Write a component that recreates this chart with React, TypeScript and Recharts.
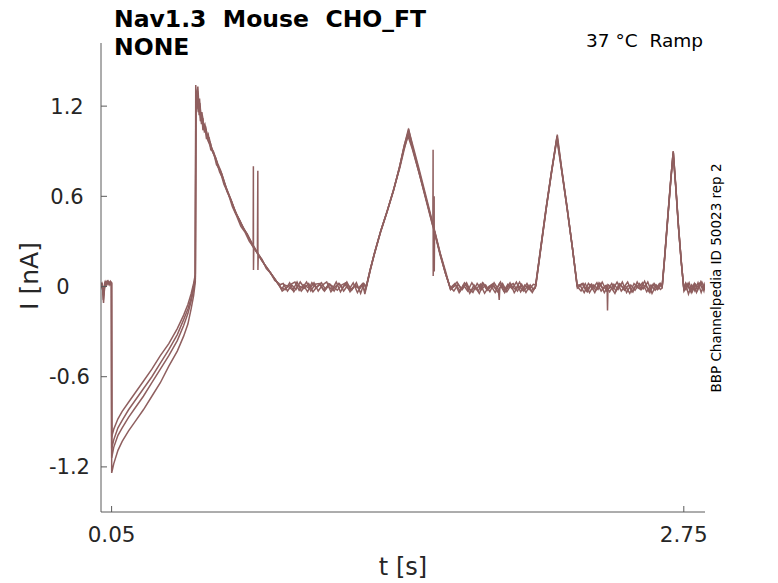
import React from 'react';
import { LineChart, Line, XAxis, YAxis } from 'recharts';

type Pt = [number, number];

// time [s], current [nA] — four sweeps of the same ramp protocol
const sweep1: Pt[] = [
  [0, 0.01], [0.004, 0.02], [0.008, -0.02], [0.011, -0.09], [0.014, -0.05], [0.017, 0.02], [0.022, 0.03], [0.028, 0.015], [0.034, 0.035], [0.04, 0.02], [0.046, 0.03], [0.0495, 0.02],
  [0.0505, -1.0], [0.06, -0.95], [0.08, -0.88], [0.1, -0.83], [0.13, -0.77], [0.16, -0.71], [0.2, -0.63], [0.24, -0.55], [0.28, -0.46], [0.32, -0.38], [0.36, -0.28], [0.39, -0.19], [0.41, -0.12], [0.425, -0.05], [0.437, 0.02], [0.445, 0.08],
  [0.447, 1.34], [0.451, 1.22], [0.455, 1.3], [0.46, 1.17], [0.465, 1.25], [0.47, 1.12], [0.476, 1.16], [0.483, 1.06], [0.49, 1.08], [0.5, 1.0], [0.51, 0.99], [0.52, 0.93], [0.535, 0.88], [0.55, 0.82], [0.565, 0.77], [0.58, 0.7], [0.6, 0.62], [0.62, 0.55], [0.64, 0.48], [0.66, 0.42], [0.68, 0.37], [0.7, 0.32], [0.72, 0.27], [0.74, 0.22], [0.76, 0.17], [0.78, 0.13], [0.8, 0.09], [0.82, 0.05], [0.84, 0.01],
  [0.86, 0.02], [0.88, -0.03], [0.9, 0.01], [0.92, -0.02], [0.94, 0.03], [0.96, -0.01], [0.98, 0.02], [1.0, -0.035], [1.02, 0.0], [1.04, 0.025], [1.06, -0.02], [1.08, 0.015], [1.1, -0.03], [1.12, 0.02], [1.14, -0.01], [1.16, 0.03], [1.18, -0.025], [1.2, 0.01], [1.22, -0.015], [1.24, 0.02],
  [1.252, 0.0], [1.27, 0.11], [1.29, 0.22], [1.32, 0.37], [1.35, 0.5], [1.38, 0.64], [1.41, 0.8], [1.43, 0.93], [1.451, 1.05], [1.47, 0.93], [1.5, 0.77], [1.54, 0.55], [1.57, 0.38], [1.6, 0.22], [1.625, 0.09], [1.648, -0.01],
  [1.67, 0.02], [1.69, -0.04], [1.71, 0.01], [1.73, -0.03], [1.75, 0.025], [1.77, -0.02], [1.79, 0.015], [1.81, -0.045], [1.83, 0.0], [1.85, 0.02], [1.87, -0.035], [1.89, 0.01], [1.91, -0.02], [1.93, 0.025], [1.95, -0.04], [1.97, 0.005], [1.99, -0.025], [2.01, 0.02], [2.03, -0.03],
  [2.05, 0.0], [2.075, 0.26], [2.1, 0.52], [2.125, 0.76], [2.152, 1.0], [2.175, 0.77], [2.2, 0.52], [2.225, 0.25], [2.247, 0.0],
  [2.265, -0.03], [2.285, 0.02], [2.305, -0.04], [2.325, 0.01], [2.345, -0.02], [2.365, 0.03], [2.385, -0.03], [2.405, 0.0], [2.425, -0.045], [2.445, 0.02], [2.465, -0.01], [2.485, 0.03], [2.505, -0.035], [2.525, 0.01], [2.545, -0.02], [2.565, 0.035], [2.585, -0.03], [2.605, 0.015], [2.625, -0.02], [2.64, 0.02],
  [2.648, 0.0], [2.66, 0.2], [2.675, 0.47], [2.688, 0.7], [2.7, 0.9], [2.713, 0.65], [2.725, 0.4], [2.738, 0.17], [2.75, -0.02],
  [2.765, 0.02], [2.78, -0.03], [2.795, 0.01], [2.81, -0.04], [2.825, 0.02], [2.84, -0.02], [2.85, 0.01],
];

const sweep2: Pt[] = [
  [0, 0.0], [0.005, 0.025], [0.009, -0.01], [0.012, -0.06], [0.015, -0.02], [0.019, 0.03], [0.025, 0.02], [0.031, 0.035], [0.037, 0.015], [0.043, 0.03], [0.0495, 0.025],
  [0.0505, -1.08], [0.06, -1.02], [0.08, -0.94], [0.1, -0.89], [0.13, -0.82], [0.16, -0.76], [0.2, -0.68], [0.24, -0.6], [0.28, -0.51], [0.32, -0.42], [0.36, -0.32], [0.39, -0.22], [0.41, -0.15], [0.425, -0.08], [0.437, 0.0], [0.445, 0.06],
  [0.4475, 1.3], [0.452, 1.26], [0.457, 1.33], [0.462, 1.2], [0.467, 1.21], [0.472, 1.1], [0.478, 1.14], [0.486, 1.05], [0.494, 1.06], [0.505, 0.97], [0.515, 0.96], [0.528, 0.89], [0.54, 0.86], [0.555, 0.79], [0.57, 0.75], [0.59, 0.66], [0.61, 0.59], [0.63, 0.51], [0.65, 0.45], [0.67, 0.39], [0.69, 0.35], [0.71, 0.29], [0.73, 0.24], [0.75, 0.2], [0.77, 0.15], [0.79, 0.11], [0.81, 0.07], [0.83, 0.03], [0.85, -0.01],
  [0.87, -0.02], [0.89, 0.025], [0.91, -0.035], [0.93, 0.01], [0.95, -0.01], [0.97, 0.03], [0.99, -0.03], [1.01, 0.015], [1.03, 0.02], [1.05, -0.025], [1.07, 0.005], [1.09, -0.02], [1.11, 0.03], [1.13, -0.035], [1.15, 0.015], [1.17, -0.02], [1.19, 0.025], [1.21, -0.04], [1.23, 0.01], [1.245, -0.03],
  [1.254, 0.01], [1.272, 0.12], [1.292, 0.23], [1.322, 0.38], [1.352, 0.51], [1.382, 0.65], [1.41, 0.79], [1.432, 0.92], [1.45, 1.02], [1.472, 0.91], [1.502, 0.75], [1.54, 0.54], [1.562, 0.42], [1.566, 0.4], [1.567, 0.91], [1.5675, 0.07], [1.569, 0.39], [1.6, 0.21], [1.627, 0.08], [1.65, -0.02],
  [1.68, 0.03], [1.7, -0.02], [1.72, 0.015], [1.74, -0.045], [1.76, 0.01], [1.78, -0.03], [1.8, 0.025], [1.82, -0.02], [1.84, 0.005], [1.86, -0.04], [1.88, 0.02], [1.9, -0.03], [1.92, 0.015], [1.94, -0.015], [1.96, 0.03], [1.98, -0.035], [2.0, 0.01], [2.02, -0.02], [2.04, 0.015],
  [2.052, 0.01], [2.077, 0.27], [2.102, 0.53], [2.127, 0.77], [2.151, 0.98], [2.176, 0.75], [2.201, 0.5], [2.226, 0.24], [2.248, -0.01],
  [2.275, 0.02], [2.295, -0.035], [2.315, 0.015], [2.335, -0.025], [2.355, 0.02], [2.375, -0.04], [2.395, 0.01], [2.415, -0.02], [2.435, 0.03], [2.455, -0.03], [2.475, 0.005], [2.495, -0.045], [2.515, 0.02], [2.535, -0.01], [2.555, 0.025], [2.575, -0.035], [2.595, 0.01], [2.615, -0.025], [2.635, 0.02],
  [2.649, 0.01], [2.661, 0.21], [2.676, 0.48], [2.689, 0.71], [2.701, 0.89], [2.714, 0.63], [2.726, 0.38], [2.739, 0.15], [2.751, -0.03],
  [2.77, 0.015], [2.785, -0.04], [2.8, 0.02], [2.815, -0.025], [2.83, 0.03], [2.845, -0.03], [2.85, 0.0],
];

const sweep3: Pt[] = [
  [0, 0.02], [0.005, 0.0], [0.01, -0.04], [0.013, -0.03], [0.018, 0.01], [0.024, 0.035], [0.03, 0.02], [0.036, 0.03], [0.042, 0.01], [0.0495, 0.03],
  [0.0505, -1.14], [0.06, -1.07], [0.08, -0.99], [0.1, -0.94], [0.13, -0.87], [0.16, -0.81], [0.2, -0.73], [0.24, -0.64], [0.28, -0.55], [0.32, -0.46], [0.36, -0.36], [0.39, -0.26], [0.41, -0.18], [0.425, -0.1], [0.437, -0.02], [0.445, 0.05],
  [0.448, 1.28], [0.453, 1.18], [0.458, 1.27], [0.463, 1.14], [0.468, 1.2], [0.474, 1.08], [0.48, 1.12], [0.488, 1.03], [0.496, 1.04], [0.508, 0.96], [0.52, 0.92], [0.532, 0.88], [0.545, 0.83], [0.56, 0.76], [0.575, 0.72], [0.595, 0.63], [0.615, 0.57], [0.635, 0.49], [0.655, 0.44], [0.675, 0.38], [0.695, 0.33], [0.715, 0.27], [0.718, 0.26], [0.719, 0.8], [0.7195, 0.11], [0.721, 0.26], [0.735, 0.23], [0.755, 0.18], [0.775, 0.14], [0.795, 0.1], [0.815, 0.06], [0.835, 0.02], [0.852, -0.02],
  [0.865, 0.01], [0.885, 0.0], [0.905, -0.025], [0.925, 0.03], [0.945, -0.03], [0.965, 0.005], [0.985, -0.015], [1.005, 0.025], [1.025, -0.03], [1.045, 0.01], [1.065, 0.03], [1.085, -0.035], [1.105, 0.0], [1.125, 0.02], [1.145, -0.03], [1.165, 0.01], [1.185, -0.02], [1.205, 0.025], [1.225, -0.045], [1.24, 0.015],
  [1.25, -0.01], [1.268, 0.1], [1.288, 0.21], [1.318, 0.36], [1.348, 0.49], [1.378, 0.63], [1.408, 0.79], [1.428, 0.91], [1.449, 1.0], [1.468, 0.92], [1.498, 0.77], [1.538, 0.56], [1.568, 0.4], [1.571, 0.38], [1.572, 0.6], [1.5725, 0.1], [1.574, 0.37], [1.598, 0.23], [1.623, 0.1], [1.646, 0.0],
  [1.665, -0.03], [1.685, 0.015], [1.705, -0.02], [1.725, 0.025], [1.745, -0.035], [1.765, 0.0], [1.785, -0.045], [1.805, 0.02], [1.825, -0.025], [1.845, 0.01], [1.865, -0.02], [1.885, 0.03], [1.905, -0.04], [1.925, 0.005], [1.945, 0.02], [1.965, -0.03], [1.985, 0.015], [2.005, -0.04], [2.025, 0.01], [2.04, -0.02],
  [2.049, -0.01], [2.074, 0.25], [2.099, 0.51], [2.124, 0.75], [2.153, 1.01], [2.174, 0.78], [2.199, 0.53], [2.224, 0.26], [2.246, 0.01],
  [2.26, 0.01], [2.28, -0.04], [2.3, 0.02], [2.32, -0.015], [2.34, 0.025], [2.36, -0.03], [2.38, 0.005], [2.4, -0.035], [2.42, 0.015], [2.44, -0.02], [2.46, 0.03], [2.48, -0.04], [2.5, 0.01], [2.52, -0.025], [2.54, 0.02], [2.56, -0.015], [2.58, 0.03], [2.6, -0.045], [2.62, 0.01], [2.64, -0.02],
  [2.647, -0.01], [2.659, 0.19], [2.674, 0.46], [2.687, 0.69], [2.699, 0.88], [2.712, 0.66], [2.724, 0.41], [2.737, 0.18], [2.749, 0.0],
  [2.76, -0.02], [2.775, 0.025], [2.79, -0.035], [2.805, 0.015], [2.82, -0.01], [2.835, 0.03], [2.85, -0.02],
];

const sweep4: Pt[] = [
  [0, -0.01], [0.006, 0.015], [0.01, -0.07], [0.012, -0.11], [0.015, -0.04], [0.02, 0.02], [0.026, 0.01], [0.032, 0.03], [0.038, 0.02], [0.044, 0.035], [0.0495, 0.02],
  [0.0505, -1.24], [0.06, -1.18], [0.08, -1.09], [0.1, -1.03], [0.13, -0.96], [0.16, -0.9], [0.2, -0.82], [0.24, -0.73], [0.28, -0.64], [0.32, -0.53], [0.36, -0.43], [0.39, -0.33], [0.41, -0.25], [0.425, -0.15], [0.437, -0.06], [0.445, 0.03],
  [0.4485, 1.25], [0.454, 1.31], [0.459, 1.16], [0.464, 1.22], [0.469, 1.1], [0.475, 1.15], [0.481, 1.04], [0.489, 1.07], [0.498, 0.98], [0.506, 1.01], [0.518, 0.91], [0.53, 0.9], [0.545, 0.81], [0.56, 0.78], [0.58, 0.68], [0.6, 0.62], [0.62, 0.53], [0.64, 0.47], [0.66, 0.4], [0.68, 0.36], [0.7, 0.3], [0.72, 0.26], [0.738, 0.22], [0.74, 0.77], [0.7405, 0.11], [0.742, 0.21], [0.76, 0.18], [0.78, 0.12], [0.8, 0.09], [0.82, 0.04], [0.84, 0.02], [0.855, -0.03],
  [0.875, -0.01], [0.895, 0.015], [0.915, 0.03], [0.935, -0.025], [0.955, 0.01], [0.975, -0.035], [0.995, 0.025], [1.015, -0.01], [1.035, 0.015], [1.055, -0.03], [1.075, 0.02], [1.095, 0.0], [1.115, -0.025], [1.135, 0.01], [1.155, 0.025], [1.175, -0.035], [1.195, 0.005], [1.215, -0.01], [1.235, 0.02], [1.245, -0.05],
  [1.253, 0.0], [1.271, 0.11], [1.291, 0.22], [1.321, 0.37], [1.351, 0.5], [1.381, 0.64], [1.411, 0.81], [1.431, 0.94], [1.452, 1.04], [1.471, 0.94], [1.501, 0.78], [1.541, 0.56], [1.571, 0.39], [1.601, 0.22], [1.626, 0.1], [1.649, -0.02],
  [1.675, 0.01], [1.695, -0.03], [1.715, 0.025], [1.735, -0.01], [1.755, -0.04], [1.775, 0.02], [1.795, -0.02], [1.815, 0.01], [1.835, -0.035], [1.855, 0.025], [1.875, -0.02], [1.879, -0.09], [1.882, -0.01], [1.895, 0.02], [1.915, -0.035], [1.935, 0.01], [1.955, -0.02], [1.975, 0.03], [1.995, -0.03], [2.015, 0.005], [2.035, -0.04],
  [2.051, 0.0], [2.076, 0.26], [2.101, 0.52], [2.126, 0.76], [2.152, 0.99], [2.175, 0.76], [2.2, 0.51], [2.225, 0.25], [2.248, 0.0],
  [2.27, 0.02], [2.29, -0.03], [2.31, 0.01], [2.33, -0.04], [2.35, 0.025], [2.37, -0.015], [2.388, 0.01], [2.39, -0.16], [2.392, -0.02], [2.41, 0.02], [2.43, -0.03], [2.45, 0.015], [2.47, -0.025], [2.49, 0.01], [2.51, -0.035], [2.53, 0.03], [2.55, -0.02], [2.57, 0.01], [2.59, -0.04], [2.61, 0.02], [2.63, -0.015], [2.643, 0.01],
  [2.648, 0.0], [2.66, 0.2], [2.675, 0.47], [2.688, 0.7], [2.7, 0.9], [2.713, 0.64], [2.725, 0.39], [2.738, 0.16], [2.75, -0.01],
  [2.758, 0.02], [2.772, -0.05], [2.787, 0.01], [2.802, -0.03], [2.817, 0.025], [2.832, -0.04], [2.846, 0.015], [2.85, -0.01],
];

const xTicks = [0.05, 2.75];
const yTicks = [-1.2, -0.6, 0, 0.6, 1.2];

const sweeps = [sweep1, sweep2, sweep3, sweep4].map((s) => s.map(([t, i]) => ({ t, i })));

const FONT = '"DejaVu Sans", sans-serif';
const TEXT = '#262626';
const AXIS = '#5a5a5a';
const TRACE = '#8f5f5f';
const AX_LEFT = 101;
const PLOT_BOTTOM = 512;

const YTick = (props: any) => {
  const { y, payload } = props;
  const v = payload.value;
  const cx = v === 0 ? 63 : v < 0 ? 69.5 : 67;
  return (
    <g>
      <line x1={AX_LEFT} x2={AX_LEFT + 6} y1={y} y2={y} stroke={AXIS} />
      <text x={cx} y={y} dy="0.36em" textAnchor="middle" fontFamily={FONT} fontSize={21} fill={TEXT}>
        {v === 0 ? '0' : v.toFixed(1)}
      </text>
    </g>
  );
};

const XTick = (props: any) => {
  const { x, payload } = props;
  return (
    <g>
      <line x1={x} x2={x} y1={PLOT_BOTTOM - 6} y2={PLOT_BOTTOM} stroke={AXIS} />
      <text x={x} y={PLOT_BOTTOM + 30} textAnchor="middle" fontFamily={FONT} fontSize={21.5} fill={TEXT}>
        {payload.value.toFixed(2)}
      </text>
    </g>
  );
};

const App = () => {
  return (
    <div style={{ position: 'absolute', left: 0, top: 0, width: 778, height: 583, background: '#fff' }}>
      <LineChart width={778} height={583} margin={{ top: 43, right: 73, left: 41, bottom: 31 }}>
        <XAxis
          type="number"
          dataKey="t"
          domain={[0, 2.85]}
          ticks={xTicks}
          allowDataOverflow
          height={40}
          tickSize={0}
          tickLine={false}
          axisLine={{ stroke: AXIS }}
          tick={<XTick />}
        />
        <YAxis
          type="number"
          domain={[-1.5, 1.62]}
          ticks={yTicks}
          allowDataOverflow
          width={60}
          tickSize={0}
          tickLine={false}
          axisLine={{ stroke: AXIS }}
          tick={<YTick />}
        />
        {sweeps.map((d, k) => (
          <Line
            key={k}
            data={d}
            dataKey="i"
            type="linear"
            stroke={TRACE}
            strokeWidth={1.5}
            dot={false}
            isAnimationActive={false}
          />
        ))}
      </LineChart>
      <svg width={778} height={583} style={{ position: 'absolute', left: 0, top: 0, pointerEvents: 'none' }}>
        <text x={114} y={27} fontFamily={FONT} fontWeight="bold" fontSize={23.5} fill="#000" style={{ whiteSpace: 'pre' }}>
          Nav1.3  Mouse  CHO_FT
        </text>
        <text x={114} y={55} fontFamily={FONT} fontWeight="bold" fontSize={23.5} fill="#000">
          NONE
        </text>
        <text x={703} y={47} textAnchor="end" fontFamily={FONT} fontSize={18.5} fill="#000" style={{ whiteSpace: 'pre' }}>
          37 °C  Ramp
        </text>
        <text
          x={0}
          y={0}
          transform="translate(716 278) rotate(-90)"
          textAnchor="middle"
          dominantBaseline="central"
          fontFamily={FONT}
          fontSize={13.5}
          fill="#000"
        >
          BBP Channelpedia ID 50023 rep 2
        </text>
        <text
          x={0}
          y={0}
          transform="translate(29 276) rotate(-90)"
          textAnchor="middle"
          dominantBaseline="central"
          fontFamily={FONT}
          fontSize={25}
          fill={TEXT}
        >
          I [nA]
        </text>
        <text x={403} y={575} textAnchor="middle" fontFamily={FONT} fontSize={24} fill={TEXT}>
          t [s]
        </text>
      </svg>
    </div>
  );
};

export default App;
